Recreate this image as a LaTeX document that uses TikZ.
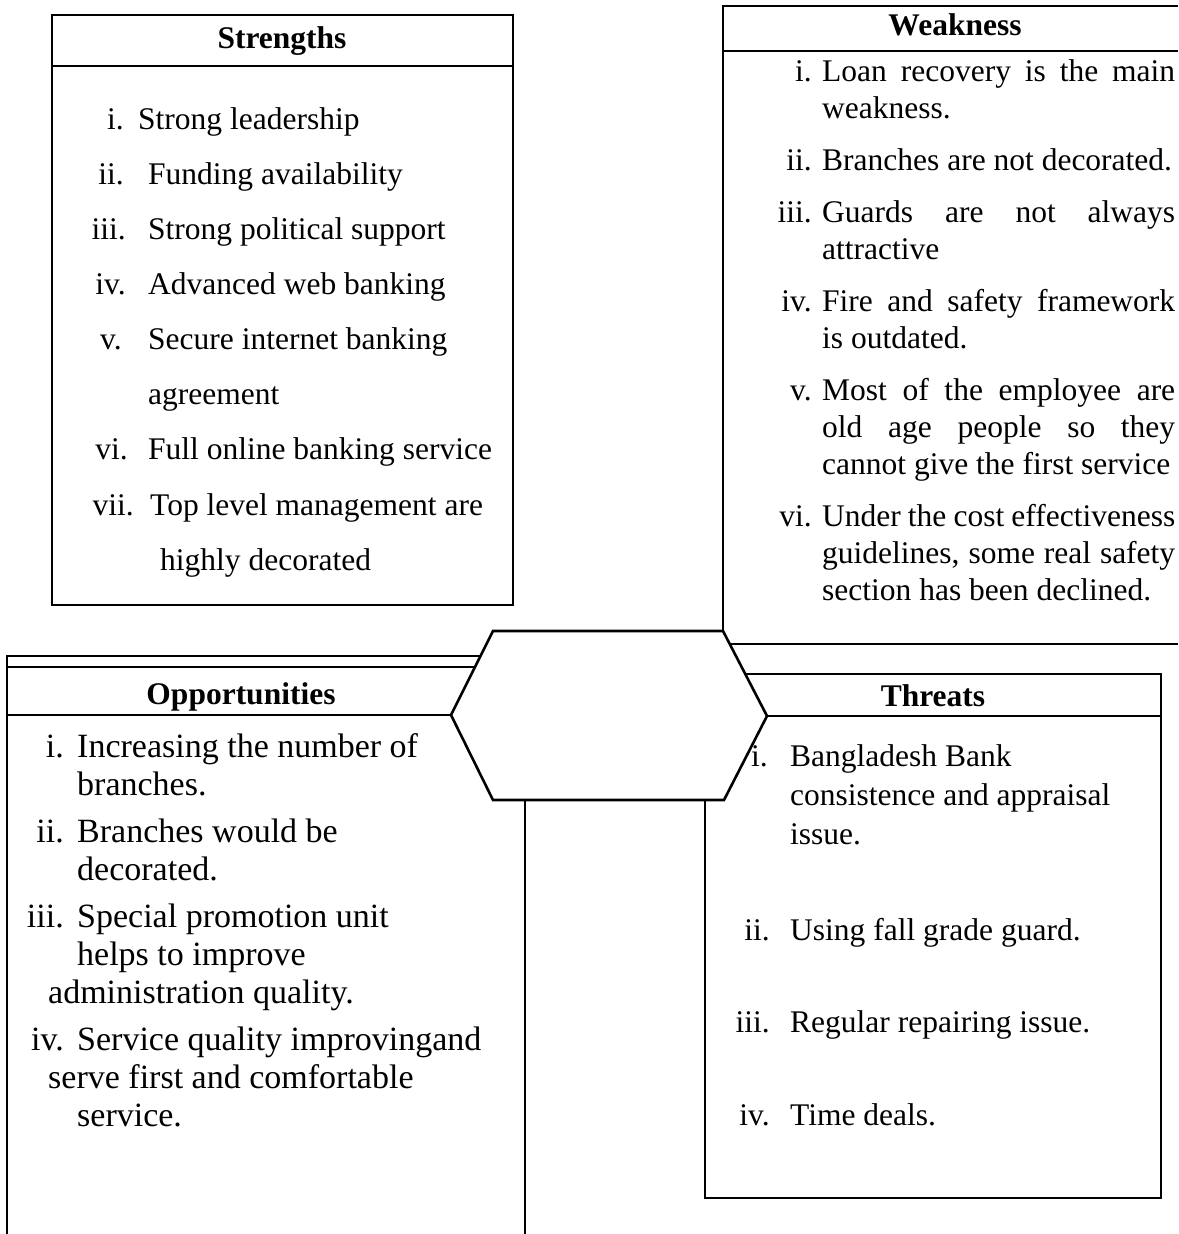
\documentclass[tikz,border=0pt]{standalone}
\usepackage{fontspec}
\setmainfont{Liberation Serif}
\newcommand\bodyfont{\fontsize{31.5}{36}\selectfont}
\newcommand\oppfont{\fontsize{34}{38}\selectfont}
\newcommand\headfont{\fontsize{31.5}{36}\selectfont\bfseries}
\newcommand\jl[1]{\makebox[353pt][s]{#1}}
\begin{document}
\begin{tikzpicture}[x=1pt,y=-1pt,
  thk/.style={line width=2.6pt, line join=miter},
  thn/.style={line width=1.4pt},
  num/.style={anchor=base east, inner sep=0pt, font=\bodyfont},
  txt/.style={anchor=base west, inner sep=0pt, font=\bodyfont},
  onum/.style={anchor=base east, inner sep=0pt, font=\oppfont},
  otxt/.style={anchor=base west, inner sep=0pt, font=\oppfont},
  ttl/.style={anchor=base, inner sep=0pt, font=\headfont}]
\useasboundingbox[fill=white] (0,0) rectangle (1178,1234);

% central hexagon
\coordinate (h1) at (493,631);
\coordinate (h2) at (723,631);
\coordinate (h3) at (767,716);
\coordinate (h4) at (724,800);
\coordinate (h5) at (493,800);
\coordinate (h6) at (451,715);
\draw[thk] (h1)--(h2)--(h3)--(h4)--(h5)--(h6)--cycle;

% Strengths box
\draw[thk] (52,15) rectangle (513,605);
\draw[thk] (52,66) -- (513,66);
\node[ttl] (ts) at (282,48) {Strengths};
\node[num] (sn1) at (124,129) {i.};   \node[txt] (sb1) at (138,129) {Strong leadership};
\node[num] (sn2) at (124,184) {ii.};  \node[txt] (sb2) at (148,184) {Funding availability};
\node[num] (sn3) at (126,239) {iii.}; \node[txt] (sb3) at (148,239) {Strong political support};
\node[num] (sn4) at (126,294) {iv.};  \node[txt] (sb4) at (148,294) {Advanced web banking};
\node[num] (sn5) at (122,349) {v.};   \node[txt] (sb5) at (148,349) {Secure internet banking};
\node[txt] (sb5b) at (148,404) {agreement};
\node[num] (sn6) at (128,459) {vi.};  \node[txt] (sb6) at (148,459) {Full online banking service};
\node[num] (sn7) at (134,515) {vii.}; \node[txt] (sb7) at (150,515) {Top level management are};
\node[txt] (sb7b) at (160,570) {highly decorated};

% Weakness box
\draw[thk] (1178,6) -- (723,6) -- (h2);
\draw[thk] (723,51) -- (1178,51);
\draw[thk] (730,644) -- (1178,644);
\node[ttl] (tw) at (955,35) {Weakness};
\node[num] (wn1) at (812,81) {i.};   \node[txt] (wb1) at (822,81) {\jl{Loan recovery is the main}};
\node[txt] (wb1b) at (822,118) {weakness.};
\node[num] (wn2) at (812,170) {ii.};  \node[txt] (wb2) at (822,170) {Branches are not decorated.};
\node[num] (wn3) at (812,222) {iii.}; \node[txt] (wb3) at (822,222) {\jl{Guards are not always}};
\node[txt] (wb3b) at (822,259) {attractive};
\node[num] (wn4) at (812,311) {iv.};  \node[txt] (wb4) at (822,311) {\jl{Fire and safety framework}};
\node[txt] (wb4b) at (822,348) {is outdated.};
\node[num] (wn5) at (812,400) {v.};   \node[txt] (wb5) at (822,400) {\jl{Most of the employee are}};
\node[txt] (wb5b) at (822,437) {\jl{old age people so they}};
\node[txt] (wb5c) at (822,474) {cannot give the first service};
\node[num] (wn6) at (812,526) {vi.};  \node[txt] (wb6) at (822,526) {\jl{Under the cost effectiveness}};
\node[txt] (wb6b) at (822,563) {\jl{guidelines, some real safety}};
\node[txt] (wb6c) at (822,600) {section has been declined.};

% Opportunities box
\draw[thn] (7,1234) -- (7,656) -- (480.5,656);
\draw[thk] (7,667) -- (475,667);
\draw[thk] (7,715) -- (h6);
\draw[thn] (525,800) -- (525,1234);
\node[ttl] (to) at (241,704) {Opportunities};
\node[onum] (on1) at (64,757) {i.};   \node[otxt] (ob1) at (77,757) {Increasing the number of};
\node[otxt] (ob1b) at (77,795) {branches.};
\node[onum] (on2) at (64,842) {ii.};  \node[otxt] (ob2) at (77,842) {Branches would be};
\node[otxt] (ob2b) at (77,880) {decorated.};
\node[onum] (on3) at (64,927) {iii.}; \node[otxt] (ob3) at (77,927) {Special promotion unit};
\node[otxt] (ob3b) at (77,965) {helps to improve};
\node[otxt] (ob3c) at (48,1003) {administration quality.};
\node[onum] (on4) at (64,1050) {iv.};  \node[otxt] (ob4) at (77,1050) {Service quality improvingand};
\node[otxt] (ob4b) at (48,1088) {serve first and comfortable};
\node[otxt] (ob4c) at (77,1126) {service.};

% Threats box
\draw[thk] (745.3,674) -- (1161,674) -- (1161,1198) -- (705,1198) -- (705,800);
\draw[thk] (h3) -- (1161,716);
\node[ttl] (tt) at (933,706) {Threats};
\node[txt] (tn1) at (751,766) {i.};   \node[txt] (tb1) at (790,766) {Bangladesh Bank};
\node[txt] (tb1b) at (790,805) {consistence and appraisal};
\node[txt] (tb1c) at (790,844) {issue.};
\node[num] (tn2) at (770,940) {ii.};  \node[txt] (tb2) at (790,940) {Using fall grade guard.};
\node[num] (tn3) at (770,1032) {iii.}; \node[txt] (tb3) at (790,1032) {Regular repairing issue.};
\node[num] (tn4) at (770,1125) {iv.};  \node[txt] (tb4) at (790,1125) {Time deals.};
\end{tikzpicture}
\end{document}
